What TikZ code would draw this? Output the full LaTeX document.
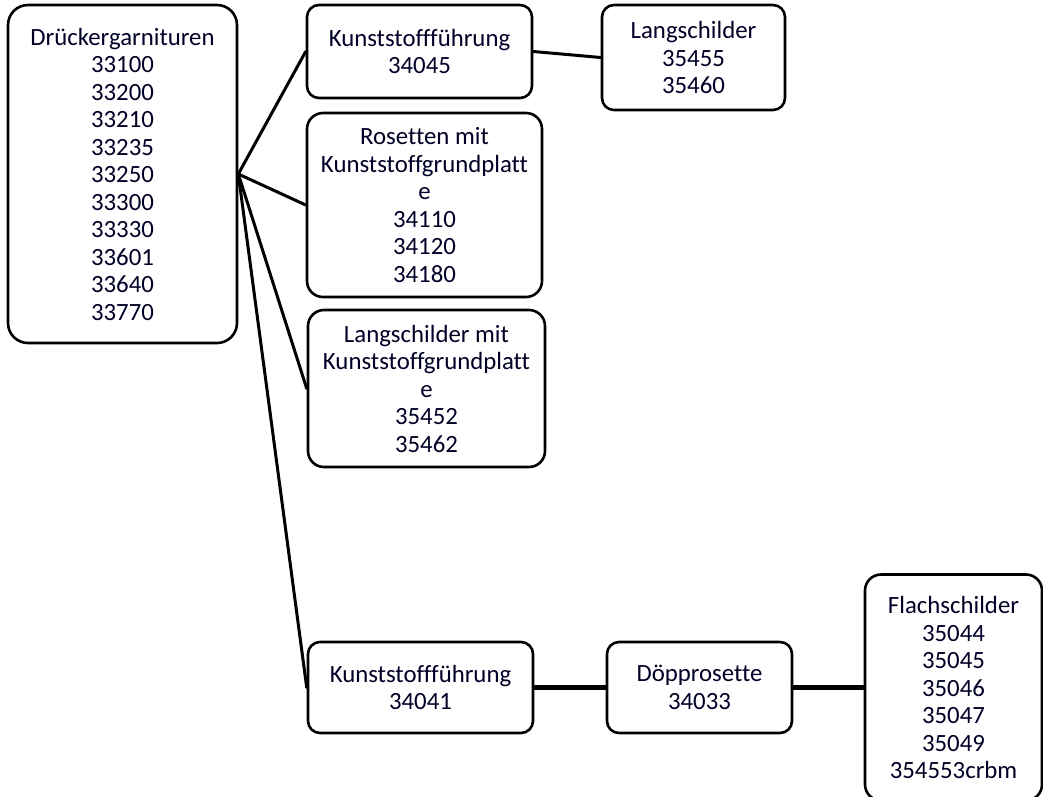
\documentclass[tikz,border=0pt]{standalone}
\usepackage{fontspec}
\setmainfont{Carlito}[Ligatures={NoCommon}]
\begin{document}
\begin{tikzpicture}[x=1pt,y=-1pt,
  box/.style={draw=black, line width=2.6pt, rounded corners=12pt, align=center,
    inner sep=0pt, fill=white, text=black!85!blue,
    font=\fontsize{24.8}{27.5}\selectfont},
  link/.style={line width=3pt, line cap=round}]
\useasboundingbox[fill=white] (0,0) rectangle (1043,796);
\node[box, minimum width=229pt, minimum height=338pt, rounded corners=20pt] (root) at (122.5,174)
  {Drückergarnituren\\33100\\33200\\33210\\33235\\33250\\33300\\33330\\33601\\33640\\33770};
\node[box, minimum width=225pt, minimum height=93pt] (k1) at (419.5,51.5)
  {Kunststoffführung\\34045};
\node[box, minimum width=183pt, minimum height=105pt] (lang) at (693.5,57.5)
  {Langschilder\\35455\\35460};
\node[box, minimum width=235pt, minimum height=184pt, rounded corners=16pt] (ros) at (424.5,205)
  {Rosetten mit\\Kunststoffgrundplatt\\e\\34110\\34120\\34180};
\node[box, minimum width=237pt, minimum height=157pt, rounded corners=16pt] (lmit) at (426.5,388.5)
  {Langschilder mit\\Kunststoffgrundplatt\\e\\35452\\35462};
\node[box, minimum width=225pt, minimum height=91pt] (k2) at (420.5,687.5)
  {Kunststoffführung\\34041};
\node[box, minimum width=185pt, minimum height=91pt] (doep) at (699.5,687.5)
  {Döpprosette\\34033};
\node[box, minimum width=177pt, minimum height=226pt, rounded corners=16pt] (flach) at (953.5,687.5)
  {Flachschilder\\35044\\35045\\35046\\35047\\35049\\354553crbm};
\draw[link] (root.east) -- (k1.west);
\draw[link] (root.east) -- (ros.west);
\draw[link] (root.east) -- (lmit.west);
\draw[link] (root.east) -- (k2.west);
\draw[link] (k1.east) -- (lang.west);
\draw[link, line width=5pt] (k2.east) -- (doep.west);
\draw[link, line width=5pt] (doep.east) -- (flach.west);
\end{tikzpicture}
\end{document}
